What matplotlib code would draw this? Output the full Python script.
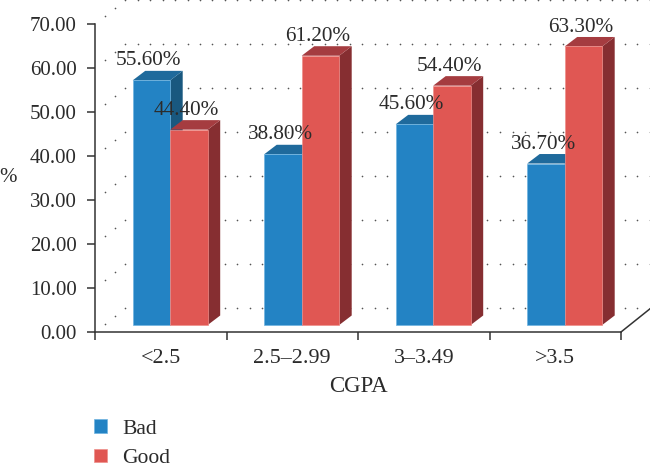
import matplotlib
matplotlib.use("Agg")
import matplotlib.pyplot as plt
from matplotlib.patches import Patch, Polygon
import numpy as np

categories = ["<2.5", "2.5–2.99", "3–3.49", ">3.5"]
series_names = ["Bad", "Good"]
bad_values = [55.6, 38.8, 45.6, 36.7]
good_values = [44.4, 61.2, 54.4, 63.3]
y_ticks = [0, 10, 20, 30, 40, 50, 60, 70]

FRONT = ["#2383C4", "#E05753"]
TOP = ["#1F6A9C", "#A53C40"]
SIDE = ["#19587F", "#862E31"]
EDGE = ["#6FB4E0", "#EE8F8B"]
TEXT = "#2b2b2b"

plt.rcParams["font.family"] = ["Liberation Serif", "DejaVu Serif"]
plt.rcParams["font.size"] = 15
plt.rcParams["text.color"] = TEXT

fig = plt.figure(figsize=(6.5, 4.67), dpi=100)
ax = fig.add_axes([95 / 650, 1 - 332 / 467, (621 - 95) / 650, (332 - 24) / 467])
ax.set_xlim(0, 4)
ax.set_ylim(0, 70)

# depth of the fake 3D box and of the bars, in data units
px_x = 4 / 526
px_y = 70 / 308
wall_dx, wall_dy = 30 * px_x, 24 * px_y
bar_dx, bar_dy = 12.5 * px_x, 9.5 * px_y
base = 7 * px_y
bar_w = 37.5 * px_x
bar_start = 37.7 * px_x

# dotted back wall and side wall
for v in y_ticks:
    xs = np.arange(wall_dx, 4 + wall_dx + 0.01, 12.5 * px_x)
    ax.plot(xs, np.full(len(xs), v + wall_dy), ls="none", marker="o", ms=1.2,
            color="#555555", mew=0, zorder=1, clip_on=False)
    ax.plot([wall_dx / 3, 2 * wall_dx / 3], [v + wall_dy / 3, v + 2 * wall_dy / 3],
            ls="none", marker="o", ms=1.2, color="#555555", mew=0, zorder=1, clip_on=False)
ax.plot([4, 4 + wall_dx], [0, wall_dy], color="#333333", lw=1.1, zorder=1, clip_on=False)

# bars, left to right so red covers the blue side face
z = 3
for i in range(len(categories)):
    for j, values in enumerate([bad_values, good_values]):
        x0 = i + bar_start + j * bar_w
        v = values[i]
        x1 = x0 + bar_w
        top = base + v
        ax.add_patch(Polygon([(x1, base), (x1 + bar_dx, base + bar_dy),
                              (x1 + bar_dx, top + bar_dy), (x1, top)],
                             fc=SIDE[j], ec="none", zorder=z))
        ax.add_patch(Polygon([(x0, top), (x1, top), (x1 + bar_dx, top + bar_dy),
                              (x0 + bar_dx, top + bar_dy)],
                             fc=TOP[j], ec="none", zorder=z))
        ax.bar(x0, v, width=bar_w, bottom=base, align="edge", color=FRONT[j],
               edgecolor=EDGE[j], linewidth=0.5, zorder=z + 0.5)
        z += 1

# labels go on top of everything
for i in range(len(categories)):
    for j, values in enumerate([bad_values, good_values]):
        xc = i + bar_start + (j + 0.5) * bar_w
        ax.annotate(f"{values[i]:.2f}%", (xc, base + values[i]), xytext=(-2, 14),
                    textcoords="offset points", ha="center", va="center",
                    fontsize=15.3, zorder=30, annotation_clip=False)

for s in ["top", "right"]:
    ax.spines[s].set_visible(False)
for s in ["left", "bottom"]:
    ax.spines[s].set_linewidth(1.1)
    ax.spines[s].set_color("#333333")
    ax.spines[s].set_zorder(20)

ax.set_yticks(y_ticks)
ax.set_yticklabels([f"{v:.2f}" for v in y_ticks])
ax.tick_params(axis="y", length=6, width=1.1, color="#333333", pad=7, labelcolor=TEXT)
ax.set_xticks(range(5))
ax.set_xticklabels([])
ax.tick_params(axis="x", which="major", length=5.5, width=1.1, color="#333333")
ax.set_xticks(np.arange(len(categories)) + 0.5, minor=True)
ax.set_xticklabels(categories, minor=True)
ax.tick_params(axis="x", which="minor", length=0, pad=12.5, labelcolor=TEXT, labelsize=15.8)

ax.text(8 / 650, 1 - 177 / 467, "%", transform=fig.transFigure, ha="center", va="center")
ax.text(358 / 650, 1 - 386 / 467, "CGPA", transform=fig.transFigure, ha="center", va="center",
        fontsize=16.5)

handles = [Patch(fc=FRONT[k], ec=EDGE[k], lw=0.5) for k in range(2)]
fig.legend(handles, series_names, loc="upper left", bbox_to_anchor=(90 / 650, 1 - 415 / 467),
           frameon=False, fontsize=15.6, handlelength=0.6, handleheight=0.6, handletextpad=0.7,
           labelspacing=0.45, borderpad=0.2, borderaxespad=0)

fig.savefig("out.png", dpi=100)
